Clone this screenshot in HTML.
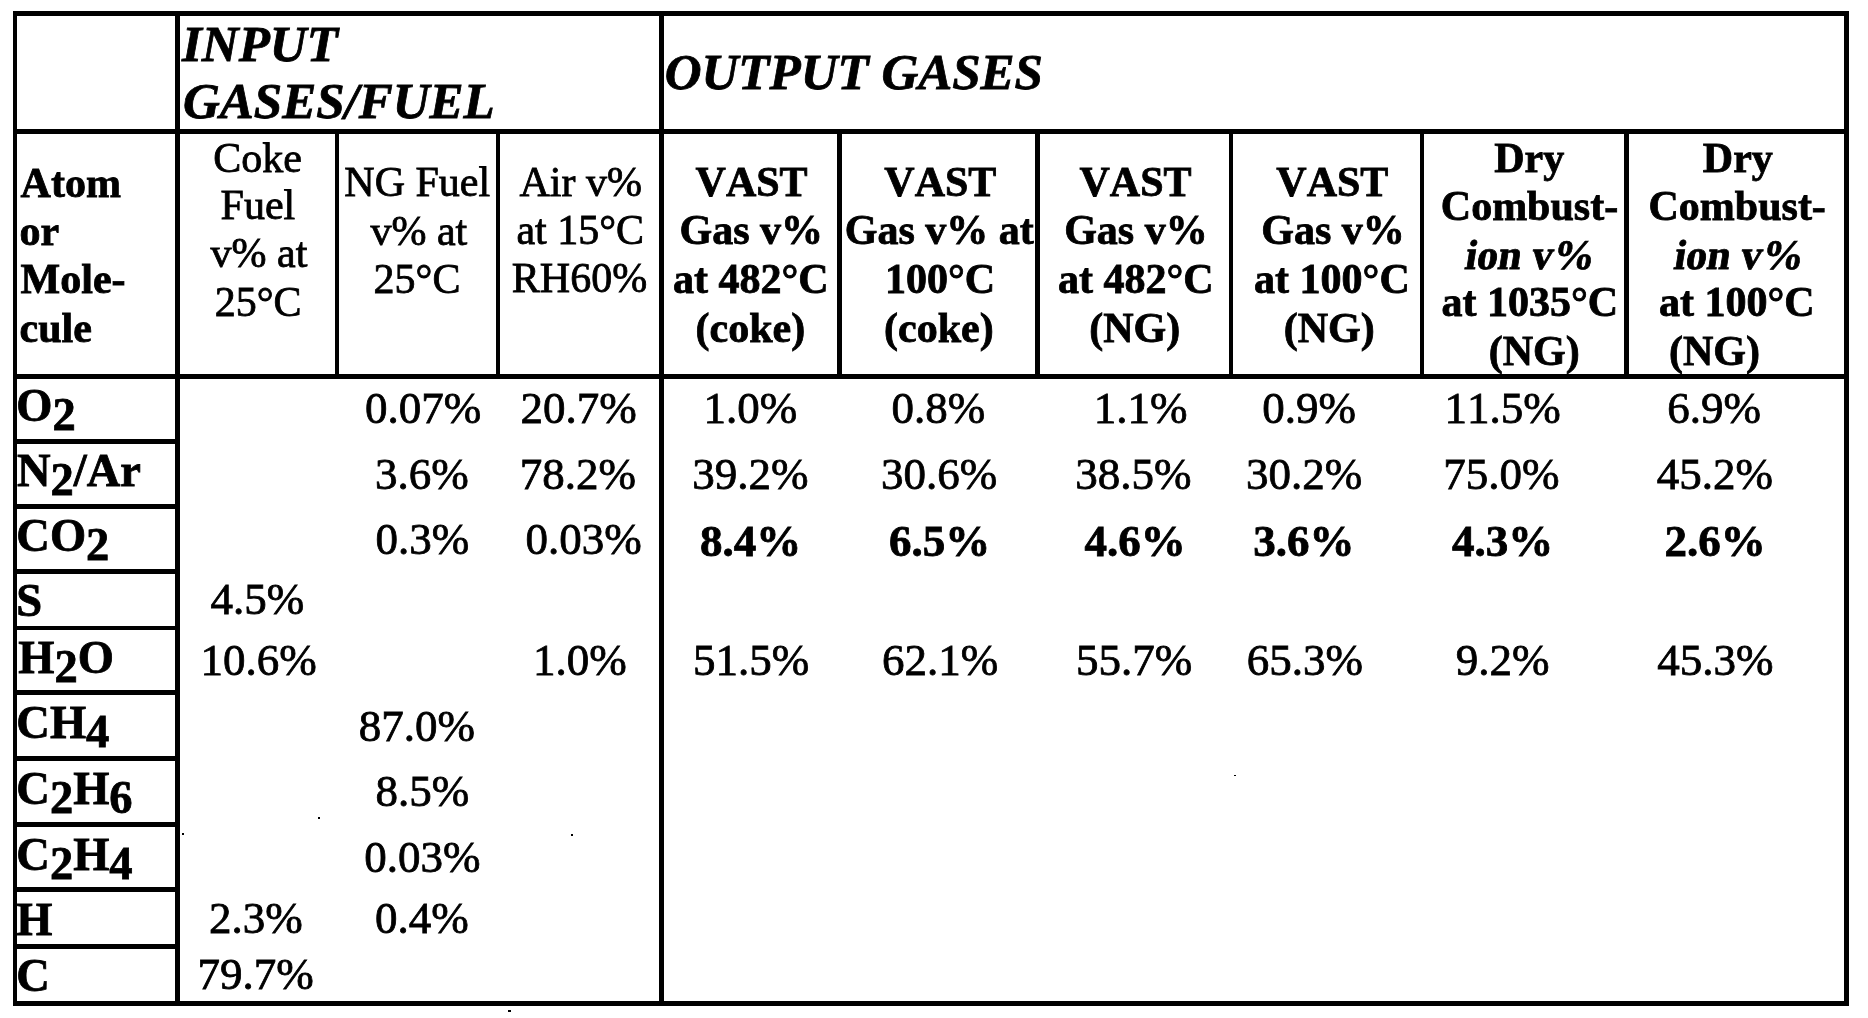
<!DOCTYPE html><html><head><meta charset="utf-8"><style>
html,body{margin:0;padding:0;background:#fff;width:1868px;height:1018px;overflow:hidden}
body{filter:grayscale(1)}
.ln{position:absolute;background:#000}
.t{position:absolute;white-space:nowrap;line-height:1;color:#000;font-kerning:none;font-family:'Liberation Serif', serif}
.sb{position:relative;top:9px;font-size:46.5px}
.t{-webkit-text-stroke:0.8px #000}
</style></head><body>
<div class="ln" style="left:12.5px;top:10.7px;width:1836.5px;height:5px"></div>
<div class="ln" style="left:12.5px;top:129px;width:1836.5px;height:5px"></div>
<div class="ln" style="left:12.5px;top:374.2px;width:1836.5px;height:5px"></div>
<div class="ln" style="left:12.5px;top:1001.3px;width:1836.5px;height:4.7px"></div>
<div class="ln" style="left:12.5px;top:439px;width:165.5px;height:4.6px"></div>
<div class="ln" style="left:12.5px;top:504px;width:165.5px;height:4.6px"></div>
<div class="ln" style="left:12.5px;top:569px;width:165.5px;height:4.6px"></div>
<div class="ln" style="left:12.5px;top:625.5px;width:165.5px;height:4.6px"></div>
<div class="ln" style="left:12.5px;top:690px;width:165.5px;height:4.6px"></div>
<div class="ln" style="left:12.5px;top:756.2px;width:165.5px;height:4.6px"></div>
<div class="ln" style="left:12.5px;top:822px;width:165.5px;height:4.6px"></div>
<div class="ln" style="left:12.5px;top:887.2px;width:165.5px;height:4.6px"></div>
<div class="ln" style="left:12.5px;top:944.3px;width:165.5px;height:4.6px"></div>
<div class="ln" style="left:12.5px;top:10.7px;width:4.5px;height:995.3px"></div>
<div class="ln" style="left:175px;top:10.7px;width:4.7px;height:995.3px"></div>
<div class="ln" style="left:658.5px;top:10.7px;width:5px;height:995.3px"></div>
<div class="ln" style="left:1844.2px;top:10.7px;width:4.8px;height:995.3px"></div>
<div class="ln" style="left:334.8px;top:129px;width:4.5px;height:250px"></div>
<div class="ln" style="left:496px;top:129px;width:4.2px;height:250px"></div>
<div class="ln" style="left:837px;top:129px;width:4.8px;height:250px"></div>
<div class="ln" style="left:1035.2px;top:129px;width:4.8px;height:250px"></div>
<div class="ln" style="left:1229px;top:129px;width:4.4px;height:250px"></div>
<div class="ln" style="left:1419.5px;top:129px;width:4.5px;height:250px"></div>
<div class="ln" style="left:1624.2px;top:129px;width:4.8px;height:250px"></div>
<div class="ln" style="left:318px;top:817px;width:2px;height:2px"></div>
<div class="ln" style="left:182px;top:833px;width:2px;height:2px"></div>
<div class="ln" style="left:571px;top:834px;width:1.5px;height:1.5px"></div>
<div class="ln" style="left:1234px;top:775px;width:2px;height:1.2px"></div>
<div class="ln" style="left:508px;top:1010px;width:3px;height:2px"></div>
<div class="t" style="left:182.0px;top:18.8px;font-size:51px;font-weight:700;font-style:italic">INPUT</div>
<div class="t" style="left:183.0px;top:76.0px;font-size:51px;font-weight:700;font-style:italic">GASES/FUEL</div>
<div class="t" style="left:664.7px;top:47.3px;font-size:51px;font-weight:700;font-style:italic">OUTPUT GASES</div>
<div class="t" style="left:20.6px;top:161.5px;font-size:42px;font-weight:700;font-style:normal">Atom</div>
<div class="t" style="left:19.6px;top:209.5px;font-size:42px;font-weight:700;font-style:normal">or</div>
<div class="t" style="left:20.6px;top:258.3px;font-size:42px;font-weight:700;font-style:normal">Mole-</div>
<div class="t" style="left:19.6px;top:306.5px;font-size:42px;font-weight:700;font-style:normal">cule</div>
<div class="t" style="left:213.3px;top:136.7px;font-size:42px;font-weight:400;font-style:normal">Coke</div>
<div class="t" style="left:220.6px;top:183.9px;font-size:42px;font-weight:400;font-style:normal">Fuel</div>
<div class="t" style="left:210.6px;top:232.2px;font-size:42px;font-weight:400;font-style:normal">v% at</div>
<div class="t" style="left:214.8px;top:280.5px;font-size:42px;font-weight:400;font-style:normal">25°C</div>
<div class="t" style="left:344.3px;top:161.4px;font-size:42px;font-weight:400;font-style:normal">NG Fuel</div>
<div class="t" style="left:370.4px;top:210.0px;font-size:42px;font-weight:400;font-style:normal">v% at</div>
<div class="t" style="left:373.6px;top:258.2px;font-size:42px;font-weight:400;font-style:normal">25°C</div>
<div class="t" style="left:519.5px;top:160.8px;font-size:42px;font-weight:400;font-style:normal">Air v%</div>
<div class="t" style="left:516.4px;top:209.0px;font-size:42px;font-weight:400;font-style:normal">at 15°C</div>
<div class="t" style="left:511.8px;top:257.0px;font-size:42px;font-weight:400;font-style:normal">RH60%</div>
<div class="t" style="left:695.6px;top:161.2px;font-size:42px;font-weight:700;font-style:normal">VAST</div>
<div class="t" style="left:679.5px;top:209.4px;font-size:42px;font-weight:700;font-style:normal">Gas v%</div>
<div class="t" style="left:673.0px;top:257.7px;font-size:42px;font-weight:700;font-style:normal">at 482°C</div>
<div class="t" style="left:695.5px;top:306.8px;font-size:42px;font-weight:700;font-style:normal">(coke)</div>
<div class="t" style="left:884.3px;top:161.2px;font-size:42px;font-weight:700;font-style:normal">VAST</div>
<div class="t" style="left:844.8px;top:209.4px;font-size:42px;font-weight:700;font-style:normal">Gas v% at</div>
<div class="t" style="left:885.0px;top:257.7px;font-size:42px;font-weight:700;font-style:normal">100°C</div>
<div class="t" style="left:884.0px;top:306.8px;font-size:42px;font-weight:700;font-style:normal">(coke)</div>
<div class="t" style="left:1079.5px;top:161.2px;font-size:42px;font-weight:700;font-style:normal">VAST</div>
<div class="t" style="left:1064.2px;top:209.4px;font-size:42px;font-weight:700;font-style:normal">Gas v%</div>
<div class="t" style="left:1057.9px;top:257.7px;font-size:42px;font-weight:700;font-style:normal">at 482°C</div>
<div class="t" style="left:1089.3px;top:306.8px;font-size:42px;font-weight:700;font-style:normal">(NG)</div>
<div class="t" style="left:1276.3px;top:161.2px;font-size:42px;font-weight:700;font-style:normal">VAST</div>
<div class="t" style="left:1261.3px;top:209.4px;font-size:42px;font-weight:700;font-style:normal">Gas v%</div>
<div class="t" style="left:1254.1px;top:257.7px;font-size:42px;font-weight:700;font-style:normal">at 100°C</div>
<div class="t" style="left:1283.8px;top:306.8px;font-size:42px;font-weight:700;font-style:normal">(NG)</div>
<div class="t" style="left:1494.2px;top:137.0px;font-size:42px;font-weight:700;font-style:normal">Dry</div>
<div class="t" style="left:1440.8px;top:185.4px;font-size:42px;font-weight:700;font-style:normal">Combust-</div>
<div class="t" style="left:1466.4px;top:233.5px;font-size:42px;font-weight:700;font-style:normal;transform:skewX(-9deg)">ion v%</div>
<div class="t" style="left:1441.4px;top:281.2px;font-size:42px;font-weight:700;font-style:normal">at 1035°C</div>
<div class="t" style="left:1488.7px;top:329.8px;font-size:42px;font-weight:700;font-style:normal">(NG)</div>
<div class="t" style="left:1702.8px;top:137.0px;font-size:42px;font-weight:700;font-style:normal">Dry</div>
<div class="t" style="left:1648.5px;top:185.4px;font-size:42px;font-weight:700;font-style:normal">Combust-</div>
<div class="t" style="left:1674.5px;top:233.5px;font-size:42px;font-weight:700;font-style:normal;transform:skewX(-9deg)">ion v%</div>
<div class="t" style="left:1659.0px;top:281.2px;font-size:42px;font-weight:700;font-style:normal">at 100°C</div>
<div class="t" style="left:1669.0px;top:329.8px;font-size:42px;font-weight:700;font-style:normal">(NG)</div>
<div class="t" style="left:364.9px;top:386.4px;font-size:45px;font-weight:400;font-style:normal">0.07%</div>
<div class="t" style="left:520.4px;top:386.4px;font-size:45px;font-weight:400;font-style:normal">20.7%</div>
<div class="t" style="left:703.5px;top:386.4px;font-size:45px;font-weight:400;font-style:normal">1.0%</div>
<div class="t" style="left:891.6px;top:386.4px;font-size:45px;font-weight:400;font-style:normal">0.8%</div>
<div class="t" style="left:1093.8px;top:386.4px;font-size:45px;font-weight:400;font-style:normal">1.1%</div>
<div class="t" style="left:1262.2px;top:386.4px;font-size:45px;font-weight:400;font-style:normal">0.9%</div>
<div class="t" style="left:1444.5px;top:386.4px;font-size:45px;font-weight:400;font-style:normal">11.5%</div>
<div class="t" style="left:1667.3px;top:386.4px;font-size:45px;font-weight:400;font-style:normal">6.9%</div>
<div class="t" style="left:375.0px;top:451.9px;font-size:45px;font-weight:400;font-style:normal">3.6%</div>
<div class="t" style="left:519.8px;top:451.9px;font-size:45px;font-weight:400;font-style:normal">78.2%</div>
<div class="t" style="left:692.2px;top:451.9px;font-size:45px;font-weight:400;font-style:normal">39.2%</div>
<div class="t" style="left:881.0px;top:451.9px;font-size:45px;font-weight:400;font-style:normal">30.6%</div>
<div class="t" style="left:1075.3px;top:451.9px;font-size:45px;font-weight:400;font-style:normal">38.5%</div>
<div class="t" style="left:1246.0px;top:451.9px;font-size:45px;font-weight:400;font-style:normal">30.2%</div>
<div class="t" style="left:1443.3px;top:451.9px;font-size:45px;font-weight:400;font-style:normal">75.0%</div>
<div class="t" style="left:1656.8px;top:451.9px;font-size:45px;font-weight:400;font-style:normal">45.2%</div>
<div class="t" style="left:375.5px;top:517.0px;font-size:45px;font-weight:400;font-style:normal">0.3%</div>
<div class="t" style="left:525.5px;top:517.0px;font-size:45px;font-weight:400;font-style:normal">0.03%</div>
<div class="t" style="left:700.0px;top:518.5px;font-size:45px;font-weight:700;font-style:normal">8.4%</div>
<div class="t" style="left:889.1px;top:518.5px;font-size:45px;font-weight:700;font-style:normal">6.5%</div>
<div class="t" style="left:1084.5px;top:518.5px;font-size:45px;font-weight:700;font-style:normal">4.6%</div>
<div class="t" style="left:1253.2px;top:518.5px;font-size:45px;font-weight:700;font-style:normal">3.6%</div>
<div class="t" style="left:1452.1px;top:518.5px;font-size:45px;font-weight:700;font-style:normal">4.3%</div>
<div class="t" style="left:1664.4px;top:518.5px;font-size:45px;font-weight:700;font-style:normal">2.6%</div>
<div class="t" style="left:210.5px;top:576.5px;font-size:45px;font-weight:400;font-style:normal">4.5%</div>
<div class="t" style="left:200.6px;top:637.8px;font-size:45px;font-weight:400;font-style:normal">10.6%</div>
<div class="t" style="left:532.9px;top:637.8px;font-size:45px;font-weight:400;font-style:normal">1.0%</div>
<div class="t" style="left:693.0px;top:637.8px;font-size:45px;font-weight:400;font-style:normal">51.5%</div>
<div class="t" style="left:882.0px;top:637.8px;font-size:45px;font-weight:400;font-style:normal">62.1%</div>
<div class="t" style="left:1076.1px;top:637.8px;font-size:45px;font-weight:400;font-style:normal">55.7%</div>
<div class="t" style="left:1246.8px;top:637.8px;font-size:45px;font-weight:400;font-style:normal">65.3%</div>
<div class="t" style="left:1455.7px;top:637.8px;font-size:45px;font-weight:400;font-style:normal">9.2%</div>
<div class="t" style="left:1657.2px;top:637.8px;font-size:45px;font-weight:400;font-style:normal">45.3%</div>
<div class="t" style="left:358.8px;top:703.8px;font-size:45px;font-weight:400;font-style:normal">87.0%</div>
<div class="t" style="left:375.5px;top:769.3px;font-size:45px;font-weight:400;font-style:normal">8.5%</div>
<div class="t" style="left:364.3px;top:834.8px;font-size:45px;font-weight:400;font-style:normal">0.03%</div>
<div class="t" style="left:209.1px;top:896.2px;font-size:45px;font-weight:400;font-style:normal">2.3%</div>
<div class="t" style="left:374.9px;top:896.2px;font-size:45px;font-weight:400;font-style:normal">0.4%</div>
<div class="t" style="left:197.6px;top:951.7px;font-size:45px;font-weight:400;font-style:normal">79.7%</div>
<div class="t" style="left:16.3px;top:383.3px;font-size:46.5px;font-weight:700;font-style:normal">O<span class="sb">2</span></div>
<div class="t" style="left:16.9px;top:448.0px;font-size:46.5px;font-weight:700;font-style:normal">N<span class="sb">2</span>/Ar</div>
<div class="t" style="left:16.3px;top:513.3px;font-size:46.5px;font-weight:700;font-style:normal">CO<span class="sb">2</span></div>
<div class="t" style="left:16.3px;top:577.8px;font-size:46.5px;font-weight:700;font-style:normal">S</div>
<div class="t" style="left:18.3px;top:634.6px;font-size:46.5px;font-weight:700;font-style:normal">H<span class="sb">2</span>O</div>
<div class="t" style="left:16.3px;top:699.9px;font-size:46.5px;font-weight:700;font-style:normal">CH<span class="sb">4</span></div>
<div class="t" style="left:16.3px;top:766.0px;font-size:46.5px;font-weight:700;font-style:normal">C<span class="sb">2</span>H<span class="sb">6</span></div>
<div class="t" style="left:16.3px;top:832.0px;font-size:46.5px;font-weight:700;font-style:normal">C<span class="sb">2</span>H<span class="sb">4</span></div>
<div class="t" style="left:16.3px;top:897.2px;font-size:46.5px;font-weight:700;font-style:normal">H</div>
<div class="t" style="left:16.3px;top:952.6px;font-size:46.5px;font-weight:700;font-style:normal">C</div>
</body></html>
